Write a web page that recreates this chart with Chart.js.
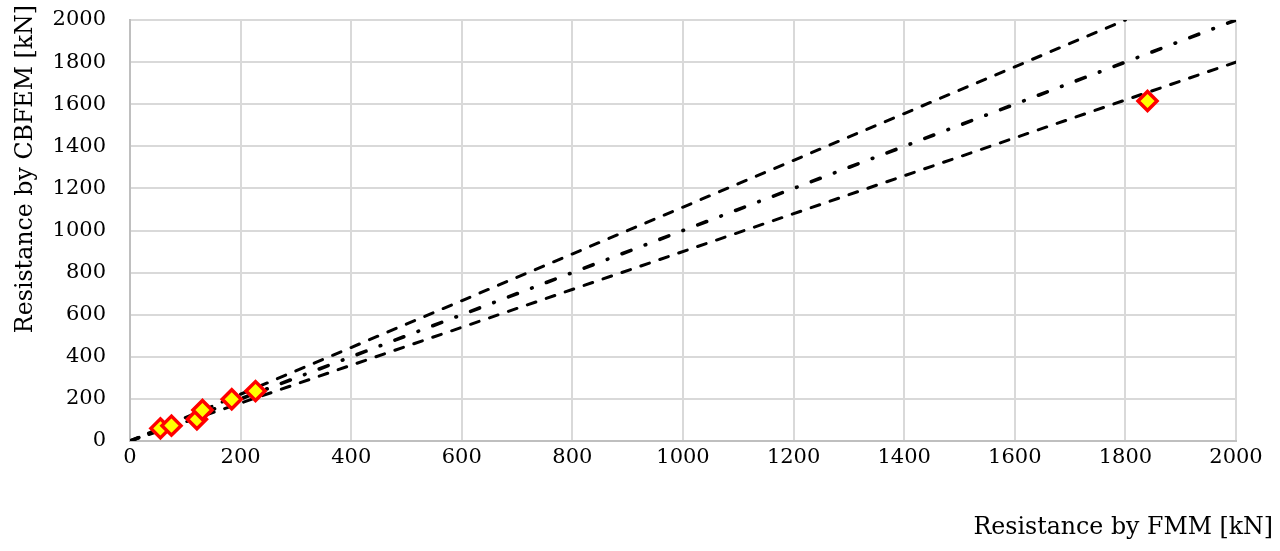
<!DOCTYPE html>
<html>
<head>
<meta charset="utf-8">
<script src="https://cdn.jsdelivr.net/npm/chart.js@4/dist/chart.umd.min.js"></script>
<style>
  html, body { margin: 0; padding: 0; background: #fff; }
  #wrap { width: 1280px; height: 551px; }
</style>
</head>
<body>
<div id="wrap"><canvas id="chart"></canvas></div>
<script>
// FMM vs CBFEM resistance, kN
const fmmValues   = [55, 75, 121, 131, 184, 227, 1840];
const cbfemValues = [60, 73, 103, 147, 198, 237, 1615];

// reference lines (y = x/0.9, y = x, y = 0.9x)
const upperLineX = [0, 1800];
const upperLineY = [0, 2000];
const equalLineX = [0, 2000];
const equalLineY = [0, 2000];
const lowerLineX = [0, 2000];
const lowerLineY = [0, 1800];

const axisMin = 0;
const axisMax = 2000;
const axisStep = 200;

const xTitle = 'Resistance by FMM [kN]';
const yTitle = 'Resistance by CBFEM [kN]';

const FONT = '"DejaVu Serif", "Liberation Serif", serif';

const toPoints = (xs, ys) => xs.map((x, i) => ({ x, y: ys[i] }));

function lineSet(xs, ys, dash, width) {
  return {
    type: 'line',
    data: toPoints(xs, ys),
    borderColor: '#000',
    borderWidth: width,
    borderDash: dash,
    borderCapStyle: 'round',
    pointRadius: 0,
    fill: false,
    order: 2,
  };
}

const titlesPlugin = {
  id: 'axisTitles',
  afterDraw(chart) {
    const { ctx } = chart;
    ctx.save();
    ctx.fillStyle = '#000';
    ctx.font = `23.7px ${FONT}`;
    ctx.textAlign = 'right';
    ctx.textBaseline = 'middle';
    ctx.fillText(xTitle, 1273, 528);
    ctx.translate(26, 5);
    ctx.rotate(-Math.PI / 2);
    ctx.fillText(yTitle, 0, 0);
    ctx.restore();
  },
};

const plainTick = (v) => String(v);

new Chart(document.getElementById('chart'), {
  type: 'scatter',
  data: {
    datasets: [
      lineSet(upperLineX, upperLineY, [9, 11], 3),
      lineSet(equalLineX, equalLineY, [9.5, 15.2, 0.6, 15.2], 3.6),
      lineSet(lowerLineX, lowerLineY, [9, 11], 3),
      {
        type: 'scatter',
        data: toPoints(fmmValues, cbfemValues),
        pointStyle: 'rectRot',
        pointRadius: 9.5,
        pointHoverRadius: 9.5,
        backgroundColor: '#ffff00',
        borderColor: '#ff0000',
        borderWidth: 3.5,
        order: 1,
      },
    ],
  },
  options: {
    responsive: true,
    maintainAspectRatio: false,
    animation: false,
    layout: { padding: { top: 20, right: 44, left: 0, bottom: 0 } },
    plugins: {
      legend: { display: false },
      tooltip: { enabled: false },
    },
    scales: {
      x: {
        type: 'linear',
        min: axisMin,
        max: axisMax,
        ticks: { stepSize: axisStep, color: '#000', padding: 4, callback: plainTick, font: { family: FONT, size: 21 } },
        grid: { color: '#d9d9d9', lineWidth: 2, drawTicks: false },
        border: { color: '#bfbfbf', width: 2 },
        afterFit: (s) => { s.height = 110; s.paddingLeft = 0; s.paddingRight = 0; },
      },
      y: {
        type: 'linear',
        min: axisMin,
        max: axisMax,
        ticks: { stepSize: axisStep, color: '#000', padding: 24, callback: plainTick, font: { family: FONT, size: 21 } },
        grid: { color: '#d9d9d9', lineWidth: 2, drawTicks: false },
        border: { color: '#bfbfbf', width: 2 },
        afterFit: (s) => { s.width = 130; s.paddingTop = 0; s.paddingBottom = 0; },
      },
    },
  },
  plugins: [titlesPlugin],
});
</script>
</body>
</html>
